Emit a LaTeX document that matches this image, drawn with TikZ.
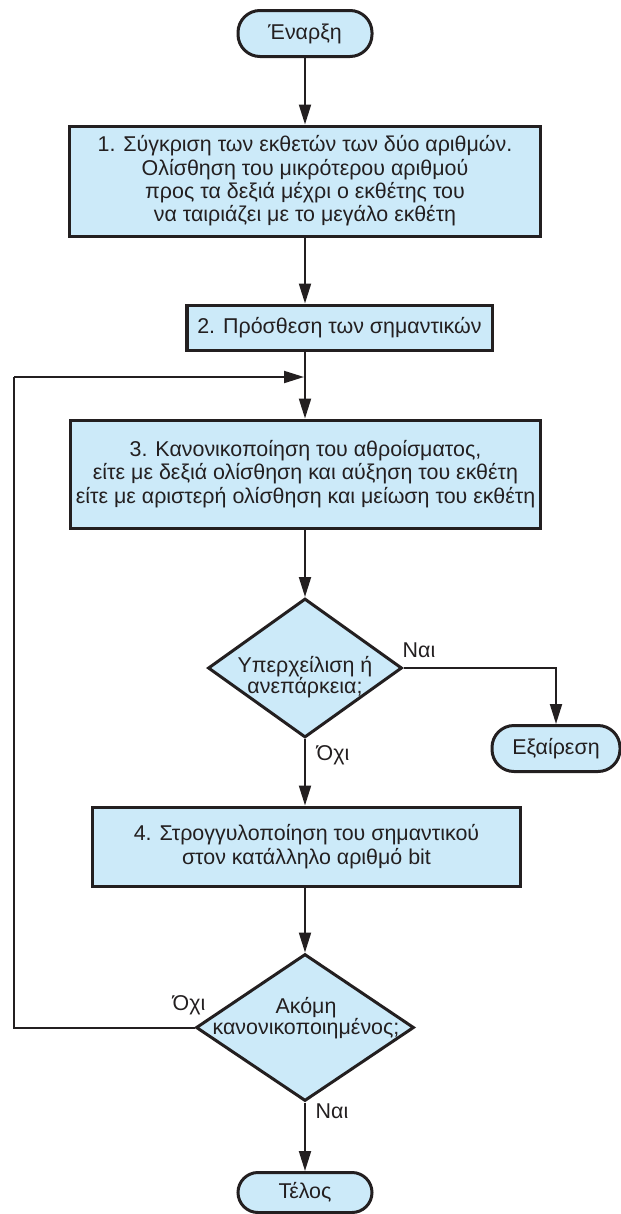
\documentclass[tikz,border=0pt]{standalone}
\usepackage{fontspec}
\setmainfont{Liberation Sans}
\usetikzlibrary{arrows.meta,shapes.geometric}
\definecolor{boxfill}{HTML}{CCEAF9}
\definecolor{ink}{HTML}{231F20}
\begin{document}
\begin{tikzpicture}[x=1bp,y=-1bp,
  font=\fontsize{21.5}{23.5}\selectfont,
  stepbox/.style={draw=ink, fill=boxfill, line width=3bp, inner sep=0pt, align=center, text=ink},
  terminal/.style={stepbox, rounded corners=22bp},
  decision/.style={diamond, draw=ink, fill=boxfill, line width=3bp, inner sep=0pt},
  flow/.style={draw=ink, line width=2bp, -{Triangle[length=20bp,width=12bp]}},
  line/.style={draw=ink, line width=2bp},
  tag/.style={inner sep=0pt, align=center, text=ink},
  qtext/.style={tag, font=\fontsize{21.5}{21}\selectfont}
]
\path[use as bounding box] (0,0) rectangle (621,1214);

% terminals
\node[terminal, minimum width=134bp, minimum height=46bp] (start) at (305,33.5) {Έναρξη};
\node[terminal, minimum width=128bp, minimum height=46bp] (exc) at (556,748.5) {Εξαίρεση};
\node[terminal, minimum width=134bp, minimum height=40bp, rounded corners=20bp] (end) at (305,1192.5) {Τέλος};

% process steps
\node[stepbox, minimum width=471bp, minimum height=110bp] (s1) at (305,181)
  {1. Σύγκριση των εκθετών των δύο αριθμών.\\
   Ολίσθηση του μικρότερου αριθμού\\
   προς τα δεξιά μέχρι ο εκθέτης του\\
   να ταιριάζει με το μεγάλο εκθέτη};
\node[stepbox, minimum width=305bp, minimum height=45bp] (s2) at (339.5,327.5)
  {2. Πρόσθεση των σημαντικών};
\node[stepbox, minimum width=469bp, minimum height=108bp] (s3) at (305.5,474)
  {3. Κανονικοποίηση του αθροίσματος,\\
   είτε με δεξιά ολίσθηση και αύξηση του εκθέτη\\
   είτε με αριστερή ολίσθηση και μείωση του εκθέτη};
\node[stepbox, minimum width=427bp, minimum height=79bp] (s4) at (306.5,846.5)
  {4. Στρογγυλοποίηση του σημαντικού\\
   στον κατάλληλο αριθμό bit};

% decisions
\node[decision, minimum width=194bp, minimum height=139bp] (d1) at (305,668) {};
\node[qtext] (d1t) at (305,677) {Υπερχείλιση ή\\ανεπάρκεια;};
\node[decision, minimum width=218bp, minimum height=147bp] (d2) at (305,1027.5) {};
\node[qtext] (d2t) at (306,1018) {Ακόμη\\κανονικοποιημένος;};

% branch labels
\node[tag] (d1yes) at (419,650) {Ναι};
\node[tag] (d1no) at (333,755) {Όχι};
\node[tag] (d2no) at (189,1005) {Όχι};
\node[tag] (d2yes) at (332,1111) {Ναι};

% connectors along the main axis x = 305
\coordinate (join) at (305,377);
\coordinate (loopbl) at (14,1027.5);
\coordinate (looptl) at (14,377);
\draw[flow] (start) -- (s1);
\draw[flow] (s1.south) -- (s1.south |- s2.north);
\draw[line] (s1.south |- s2.south) -- (join);
\draw[flow] (join) -- (join |- s3.north);
\draw[flow] (join |- s3.south) -- (d1);
\draw[flow] (d1.east) -| (exc);
\draw[flow] (d1) -- (d1.south |- s4.north);
\draw[flow] (d2.north |- s4.south) -- (d2);
\draw[flow] (d2) -- (end);
\draw[line] (d2.west) -- (loopbl) -- (looptl);
\draw[flow] (looptl) -- ([xshift=-1bp]join);
\end{tikzpicture}
\end{document}
